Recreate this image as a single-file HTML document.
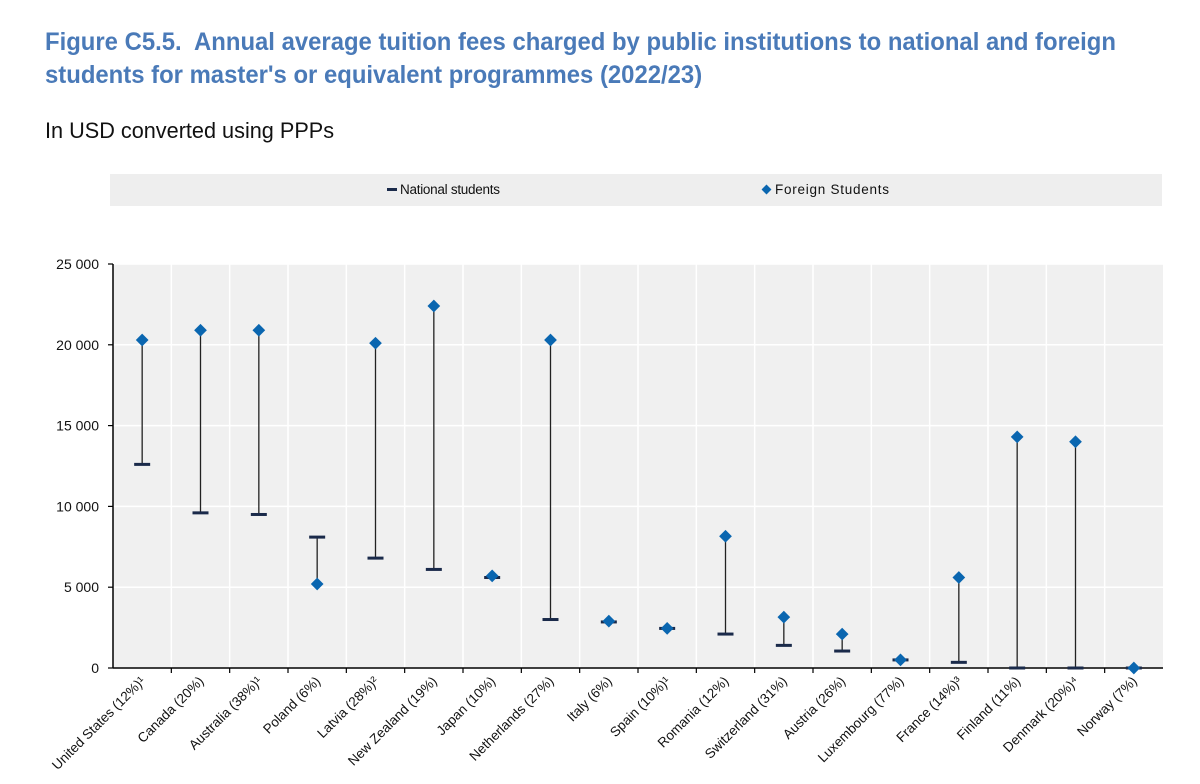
<!DOCTYPE html>
<html><head><meta charset="utf-8"><style>
body{margin:0;width:1200px;height:784px;background:#fff;font-family:"Liberation Sans",Arial,sans-serif;overflow:hidden;position:relative}
#title{position:absolute;left:45px;top:26px;font-size:25px;font-weight:bold;color:#4a7ab8;line-height:33px;transform:scaleX(0.955);transform-origin:left;white-space:nowrap}
#sub{position:absolute;left:45px;top:118px;font-size:22px;color:#111;transform:scaleX(0.985);transform-origin:left}
svg{position:absolute;left:0;top:0}
</style></head><body>
<div id="title">Figure C5.5.&nbsp; Annual average tuition fees charged by public institutions to national and foreign<br>students for master's or equivalent programmes (2022/23)</div>
<div id="sub">In USD converted using PPPs</div>
<svg id="chart" width="1200" height="784"></svg>
<script>
const categories=["United States (12%)¹","Canada (20%)","Australia (38%)¹","Poland (6%)","Latvia (28%)²","New Zealand (19%)","Japan (10%)","Netherlands (27%)","Italy (6%)","Spain (10%)¹","Romania (12%)","Switzerland (31%)","Austria (26%)","Luxembourg (77%)","France (14%)³","Finland (11%)","Denmark (20%)⁴","Norway (7%)"];
const national=[12600,9600,9500,8100,6800,6100,5600,3000,2850,2450,2100,1400,1050,500,350,0,0,0];
const foreign=[20300,20900,20900,5200,20100,22400,5700,20300,2900,2450,8150,3150,2100,500,5600,14300,14000,0];
const yTicks=[0,5000,10000,15000,20000,25000];
const yTickLabels=["0","5 000","10 000","15 000","20 000","25 000"];
const NS="http://www.w3.org/2000/svg";
const svg=document.getElementById('chart');
const L=113,R=1163,T=264,B=668,yMax=25000;
const bw=(R-L)/categories.length;
const x=i=>L+bw*(i+0.5);
const y=v=>B-(v/yMax)*(B-T);
function mk(t,a,p){const e=document.createElementNS(NS,t);for(const k in a)e.setAttribute(k,a[k]);(p||svg).appendChild(e);return e;}
let lg=mk('rect',{x:110,y:174,width:1052,height:32,fill:'#eeeeee'});


let l1=mk('rect',{x:387,y:188,width:10,height:3,fill:'#1a2a4a'});


let t1=mk('text',{x:400,y:194,'font-size':13.5,fill:'#111',textLength:100});t1.textContent='National students';


let l2=mk('rect',{x:763,y:186,width:7,height:7,fill:'#0a66b0',transform:'rotate(45 766.5 189.5)'});


let t2=mk('text',{x:775,y:194,'font-size':13.5,fill:'#111',textLength:114});t2.textContent='Foreign Students';


let bg=mk('rect',{x:L,y:T,width:R-L,height:B-T,fill:'#f0f0f0'});


yTicks.forEach((v,i)=>{
  let g=mk('line',{x1:L,x2:R,y1:y(v),y2:y(v),stroke:'#fff','stroke-width':1.5});
  
  
  mk('line',{x1:L-5,x2:L,y1:y(v),y2:y(v),stroke:'#000','stroke-width':1.2});
  let t=mk('text',{x:L-14,y:y(v)+5,'font-size':14,'text-anchor':'end',fill:'#111'});t.textContent=yTickLabels[i];
  
  
});
for(let i=1;i<categories.length;i++){
  let g=mk('line',{x1:L+bw*i,x2:L+bw*i,y1:T,y2:B,stroke:'#fff','stroke-width':1.5});
  
  
  mk('line',{x1:L+bw*i,x2:L+bw*i,y1:B,y2:B+5,stroke:'#000','stroke-width':1.2});
}
let ya=mk('line',{x1:L,x2:L,y1:T,y2:B,stroke:'#000','stroke-width':1.5});


let xa=mk('line',{x1:L,x2:R,y1:B,y2:B,stroke:'#000','stroke-width':1.5});


categories.forEach((c,i)=>{
  const cx=x(i);
  let ln=mk('line',{x1:cx,x2:cx,y1:y(national[i]),y2:y(foreign[i]),stroke:'#222','stroke-width':1.3});
  
  
  let n=mk('rect',{x:cx-8,y:y(national[i])-1.5,width:16,height:3,fill:'#1a2a4a'});
  
  
  let f=mk('rect',{x:cx-4.5,y:y(foreign[i])-4.5,width:9,height:9,fill:'#0a66b0',transform:`rotate(45 ${cx} ${y(foreign[i])})`});
  
  
  let t=mk('text',{x:cx+4,y:B+14,'font-size':13.5,'text-anchor':'end',fill:'#111',transform:`rotate(-45 ${cx+4} ${B+14})`});
  t.textContent=c;
  
  
});
</script>
</body></html>
